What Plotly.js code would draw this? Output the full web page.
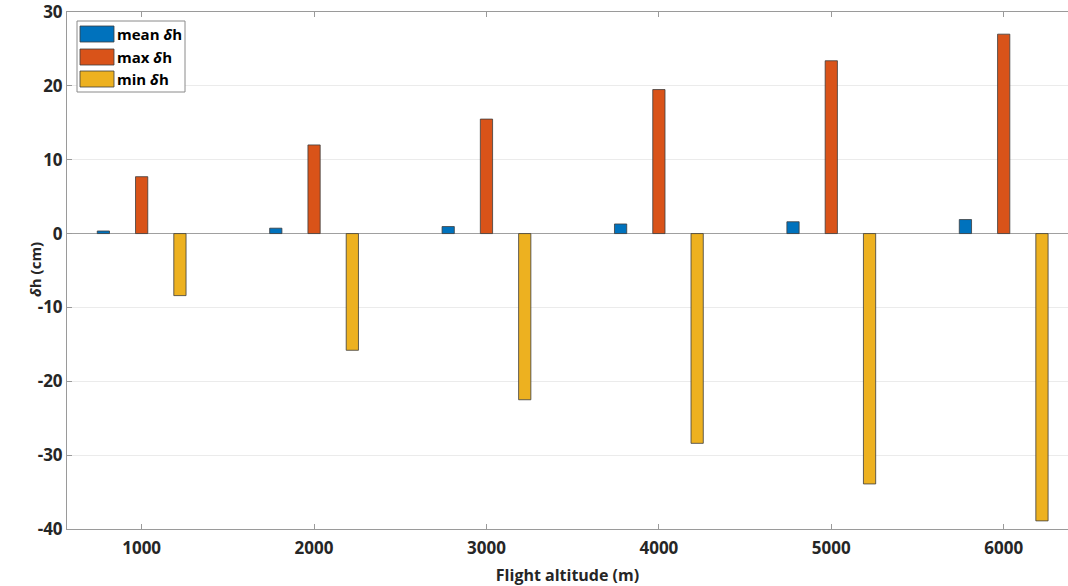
<!DOCTYPE html>
<html>
<head>
<meta charset="utf-8">
<script src="https://cdn.plot.ly/plotly-3.0.1.min.js"></script>
<style>
html,body{margin:0;padding:0;background:#fff;}
#chart{width:1068px;height:586px;}
</style>
</head>
<body>
<div id="chart"></div>
<script>
const altitudes = [1000, 2000, 3000, 4000, 5000, 6000];
const meanDh = [0.35, 0.73, 0.95, 1.3, 1.6, 1.9];
const maxDh = [7.7, 12.0, 15.5, 19.5, 23.4, 27.0];
const minDh = [-8.4, -15.8, -22.5, -28.4, -33.9, -38.9];
const seriesNames = ['mean <i>δ</i>h', 'max <i>δ</i>h', 'min <i>δ</i>h'];
const seriesColors = ['#0072BD', '#D95319', '#EDB120'];
const yTickVals = [-40, -30, -20, -10, 0, 10, 20, 30];
const yTickText = ['-40', '-30', '-20', '-10', '0', '10', '20', '30'];
const xTickVals = [1000, 2000, 3000, 4000, 5000, 6000];
const xTickText = ['1000', '2000', '3000', '4000', '5000', '6000'];

const W = 1068, H = 586;
const M = {l: 67, r: 0, t: 12, b: 57};
const px = x => (x - M.l) / (W - M.l - M.r);
const py = y => (H - M.b - y) / (H - M.t - M.b);

const edge = {color: '#3c3c3c', width: 0.8};
const seriesData = [meanDh, maxDh, minDh];
const traces = seriesData.map((vals, i) => ({
  type: 'bar',
  x: altitudes,
  y: vals,
  name: seriesNames[i],
  marker: {color: seriesColors[i], line: edge},
  showlegend: false,
  hoverinfo: 'x+y'
}));

// legend drawn as shapes + text (wide MATLAB-style swatches)
const shapes = [{
  type: 'rect', xref: 'paper', yref: 'paper',
  x0: px(77), x1: px(185), y0: py(92), y1: py(21),
  line: {color: '#8a8a8a', width: 1}, fillcolor: '#ffffff', layer: 'above'
}];
const annotations = [];
const rowTop = [26, 49, 71];
seriesNames.forEach((nm, i) => {
  shapes.push({
    type: 'rect', xref: 'paper', yref: 'paper',
    x0: px(80), x1: px(114), y0: py(rowTop[i] + 16), y1: py(rowTop[i]),
    line: {color: '#3c3c3c', width: 0.8}, fillcolor: seriesColors[i], layer: 'above'
  });
  annotations.push({
    xref: 'paper', yref: 'paper', x: px(115), y: py(rowTop[i] + 8),
    xanchor: 'left', yanchor: 'middle', showarrow: false,
    text: '<b>' + nm + '</b>',
    font: {family: 'Open Sans, sans-serif', size: 15, color: '#000000'}
  });
});
// y-axis title placed close to the tick labels, as in the reference
annotations.push({
  xref: 'paper', yref: 'paper', x: px(35), y: py(270),
  xanchor: 'center', yanchor: 'middle', showarrow: false, textangle: -90,
  text: '<b><i>δ</i>h (cm)</b>',
  font: {family: 'Open Sans, sans-serif', size: 15, color: '#262626'}
});

const layout = {
  width: W, height: H,
  margin: M,
  paper_bgcolor: '#ffffff', plot_bgcolor: '#ffffff',
  barmode: 'group',
  bargap: 0.334,
  bargroupgap: 0.68,
  font: {family: 'Open Sans, sans-serif', color: '#262626'},
  xaxis: {
    range: [567, 6373],
    tickvals: xTickVals, ticktext: xTickText,
    ticks: 'inside', ticklen: 5, tickcolor: '#9a9a9a',
    showline: true, linecolor: '#9a9a9a', linewidth: 1, mirror: 'ticks',
    showgrid: false, zeroline: false,
    ticklabelstandoff: 4,
    tickfont: {size: 17, weight: 'bold', color: '#262626'},
    title: {text: '<b>Flight altitude (m)</b>', font: {size: 16, color: '#262626'}, standoff: 12}
  },
  yaxis: {
    range: [-40, 30],
    tickvals: yTickVals, ticktext: yTickText,
    ticks: 'inside', ticklen: 5, tickcolor: '#9a9a9a',
    showline: true, linecolor: '#9a9a9a', linewidth: 1, mirror: false,
    showgrid: true, gridcolor: '#ebebeb', gridwidth: 1,
    zeroline: true, zerolinecolor: '#a0a0a0', zerolinewidth: 1,
    ticklabeloverflow: 'allow',
    tickfont: {size: 17, weight: 'bold', color: '#262626'}
  },
  shapes: shapes,
  annotations: annotations,
  showlegend: false
};

Plotly.newPlot('chart', traces, layout, {displayModeBar: false, staticPlot: true});
</script>
</body>
</html>
